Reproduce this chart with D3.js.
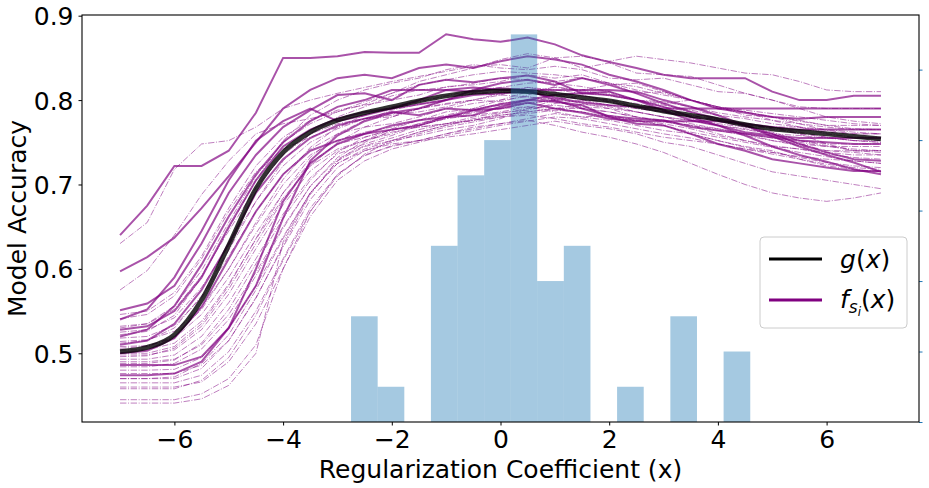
<!DOCTYPE html>
<html><head><meta charset="utf-8">
<script src="https://cdn.jsdelivr.net/npm/d3@7"></script>
<style>body{margin:0;background:#fff}svg{display:block}text{font-family:"DejaVu Sans",sans-serif}</style>
</head><body>
<svg id="c" width="929" height="488"></svg>
<script>
// ---- data ----
const xGrid = [-7,-6.5,-6,-5.5,-5,-4.5,-4,-3.5,-3,-2.5,-2,-1.5,-1,-0.5,0,0.5,1,1.5,2,2.5,3,3.5,4,4.5,5,5.5,6,6.5,7];
const gValues = [0.502,0.507,0.522,0.563,0.628,0.695,0.738,0.762,0.776,0.785,0.792,0.799,0.805,0.809,0.811,0.810,0.807,0.803,0.799,0.793,0.787,0.782,0.777,0.771,0.766,0.763,0.760,0.757,0.754];
const solidLines = [
[0.640,0.675,0.722,0.722,0.740,0.785,0.850,0.850,0.852,0.857,0.856,0.856,0.878,0.872,0.869,0.874,0.866,0.853,0.845,0.838,0.830,0.826,0.826,0.826,0.810,0.800,0.800,0.805,0.805],
[0.597,0.614,0.637,0.672,0.710,0.750,0.790,0.812,0.826,0.830,0.826,0.838,0.842,0.838,0.846,0.852,0.848,0.842,0.830,0.822,0.812,0.800,0.790,0.785,0.780,0.778,0.780,0.780,0.780],
[0.551,0.559,0.580,0.630,0.690,0.735,0.768,0.788,0.806,0.808,0.800,0.818,0.824,0.821,0.826,0.829,0.822,0.808,0.810,0.800,0.792,0.780,0.770,0.758,0.745,0.735,0.727,0.718,0.712],
[0.528,0.532,0.550,0.590,0.650,0.705,0.745,0.765,0.778,0.786,0.790,0.800,0.812,0.810,0.814,0.812,0.800,0.790,0.781,0.778,0.776,0.768,0.764,0.760,0.756,0.752,0.750,0.748,0.748],
[0.486,0.486,0.486,0.496,0.530,0.580,0.660,0.728,0.758,0.775,0.785,0.790,0.800,0.806,0.808,0.810,0.803,0.797,0.794,0.792,0.790,0.790,0.790,0.790,0.790,0.790,0.790,0.790,0.790],
[0.510,0.515,0.535,0.575,0.630,0.690,0.730,0.755,0.770,0.778,0.786,0.782,0.790,0.788,0.795,0.800,0.798,0.794,0.780,0.772,0.770,0.760,0.748,0.740,0.730,0.725,0.720,0.716,0.716],
[0.500,0.503,0.518,0.555,0.612,0.668,0.712,0.740,0.752,0.760,0.770,0.776,0.780,0.788,0.790,0.797,0.790,0.785,0.778,0.775,0.775,0.775,0.775,0.772,0.768,0.765,0.765,0.765,0.765],
[0.520,0.528,0.556,0.605,0.662,0.712,0.750,0.775,0.792,0.800,0.812,0.812,0.812,0.815,0.812,0.812,0.812,0.812,0.812,0.810,0.800,0.792,0.782,0.770,0.757,0.745,0.735,0.726,0.715],
[0.474,0.474,0.476,0.490,0.530,0.600,0.680,0.725,0.748,0.760,0.765,0.770,0.780,0.782,0.792,0.800,0.806,0.808,0.806,0.800,0.788,0.776,0.770,0.762,0.758,0.755,0.755,0.755,0.755],
[0.540,0.552,0.590,0.645,0.705,0.752,0.775,0.790,0.775,0.782,0.790,0.795,0.800,0.812,0.820,0.824,0.818,0.826,0.818,0.808,0.796,0.786,0.778,0.770,0.760,0.748,0.738,0.730,0.728]
];
const dashLines = [
[0.630,0.655,0.718,0.748,0.752,0.768,0.790,0.800,0.808,0.815,0.822,0.828,0.834,0.840,0.842,0.838,0.850,0.852,0.846,0.852,0.848,0.844,0.838,0.832,0.830,0.822,0.812,0.810,0.810],
[0.575,0.598,0.640,0.688,0.728,0.760,0.772,0.778,0.786,0.795,0.808,0.822,0.830,0.838,0.848,0.855,0.850,0.838,0.844,0.832,0.830,0.828,0.818,0.808,0.800,0.792,0.790,0.790,0.790],
[0.546,0.550,0.572,0.615,0.672,0.722,0.756,0.776,0.788,0.794,0.800,0.806,0.816,0.818,0.822,0.830,0.826,0.830,0.820,0.808,0.810,0.800,0.790,0.786,0.780,0.772,0.764,0.760,0.760],
[0.541,0.546,0.568,0.612,0.668,0.715,0.742,0.756,0.768,0.778,0.780,0.790,0.796,0.800,0.798,0.806,0.816,0.810,0.808,0.800,0.796,0.800,0.792,0.782,0.780,0.776,0.770,0.770,0.770],
[0.532,0.535,0.552,0.592,0.645,0.696,0.735,0.760,0.772,0.778,0.784,0.786,0.792,0.800,0.806,0.804,0.800,0.806,0.798,0.792,0.786,0.780,0.775,0.768,0.760,0.748,0.740,0.738,0.735],
[0.525,0.528,0.542,0.578,0.628,0.680,0.722,0.750,0.766,0.778,0.782,0.790,0.800,0.808,0.806,0.815,0.810,0.800,0.798,0.790,0.786,0.778,0.772,0.768,0.768,0.760,0.748,0.740,0.740],
[0.518,0.520,0.533,0.566,0.615,0.668,0.712,0.742,0.760,0.768,0.772,0.780,0.790,0.796,0.800,0.804,0.798,0.792,0.790,0.780,0.774,0.770,0.760,0.752,0.745,0.742,0.736,0.732,0.730],
[0.514,0.516,0.526,0.555,0.600,0.652,0.700,0.735,0.752,0.762,0.768,0.776,0.782,0.790,0.800,0.810,0.815,0.812,0.805,0.800,0.792,0.786,0.776,0.770,0.762,0.752,0.748,0.748,0.748],
[0.508,0.509,0.518,0.546,0.590,0.642,0.690,0.726,0.748,0.756,0.765,0.770,0.778,0.788,0.796,0.800,0.802,0.796,0.790,0.786,0.780,0.776,0.770,0.765,0.760,0.752,0.746,0.740,0.738],
[0.504,0.504,0.512,0.538,0.582,0.635,0.684,0.722,0.742,0.752,0.760,0.772,0.780,0.785,0.790,0.796,0.800,0.805,0.800,0.796,0.788,0.782,0.776,0.772,0.766,0.760,0.756,0.752,0.752],
[0.498,0.498,0.504,0.528,0.570,0.624,0.676,0.716,0.740,0.752,0.762,0.768,0.772,0.776,0.784,0.790,0.794,0.790,0.786,0.780,0.775,0.770,0.766,0.760,0.755,0.750,0.745,0.742,0.740],
[0.493,0.493,0.498,0.520,0.560,0.612,0.665,0.708,0.736,0.748,0.758,0.770,0.778,0.782,0.786,0.792,0.786,0.780,0.782,0.776,0.770,0.762,0.756,0.750,0.744,0.738,0.733,0.728,0.725],
[0.490,0.490,0.493,0.510,0.546,0.596,0.650,0.698,0.730,0.746,0.755,0.765,0.772,0.780,0.785,0.788,0.796,0.800,0.794,0.786,0.780,0.772,0.766,0.760,0.752,0.746,0.740,0.740,0.740],
[0.480,0.480,0.481,0.495,0.530,0.580,0.638,0.690,0.725,0.742,0.752,0.762,0.770,0.776,0.782,0.786,0.790,0.790,0.786,0.780,0.776,0.770,0.764,0.758,0.752,0.748,0.745,0.745,0.745],
[0.470,0.470,0.470,0.482,0.515,0.566,0.626,0.682,0.720,0.740,0.750,0.760,0.768,0.774,0.780,0.784,0.788,0.786,0.780,0.776,0.772,0.766,0.758,0.752,0.746,0.742,0.738,0.735,0.735],
[0.465,0.465,0.465,0.474,0.502,0.550,0.612,0.672,0.712,0.734,0.746,0.752,0.760,0.768,0.772,0.778,0.784,0.780,0.776,0.770,0.764,0.760,0.752,0.744,0.738,0.732,0.726,0.722,0.720],
[0.460,0.460,0.460,0.466,0.490,0.535,0.600,0.662,0.705,0.728,0.742,0.750,0.758,0.764,0.770,0.775,0.780,0.778,0.772,0.766,0.760,0.755,0.748,0.742,0.736,0.730,0.722,0.718,0.715],
[0.445,0.445,0.445,0.452,0.470,0.510,0.600,0.668,0.712,0.735,0.745,0.752,0.756,0.760,0.765,0.770,0.775,0.770,0.766,0.760,0.750,0.745,0.735,0.725,0.715,0.710,0.705,0.700,0.695],
[0.441,0.441,0.441,0.446,0.462,0.500,0.632,0.690,0.725,0.740,0.748,0.752,0.760,0.766,0.772,0.776,0.770,0.762,0.756,0.748,0.738,0.725,0.712,0.700,0.690,0.684,0.680,0.684,0.690],
[0.476,0.476,0.476,0.486,0.515,0.565,0.628,0.688,0.728,0.745,0.752,0.758,0.765,0.770,0.778,0.790,0.800,0.812,0.818,0.820,0.810,0.800,0.792,0.786,0.776,0.772,0.768,0.765,0.765],
[0.522,0.526,0.545,0.590,0.648,0.705,0.752,0.782,0.800,0.812,0.820,0.826,0.836,0.842,0.838,0.836,0.840,0.836,0.826,0.824,0.826,0.818,0.810,0.808,0.800,0.790,0.780,0.775,0.772],
[0.512,0.515,0.530,0.568,0.622,0.680,0.728,0.760,0.780,0.792,0.805,0.812,0.815,0.820,0.826,0.824,0.820,0.816,0.810,0.800,0.798,0.792,0.785,0.780,0.776,0.768,0.760,0.756,0.756],
[0.496,0.497,0.506,0.532,0.576,0.630,0.682,0.722,0.750,0.768,0.780,0.790,0.795,0.800,0.808,0.812,0.806,0.800,0.800,0.792,0.786,0.780,0.776,0.770,0.768,0.768,0.762,0.760,0.760],
[0.484,0.484,0.488,0.505,0.540,0.592,0.648,0.698,0.732,0.752,0.766,0.776,0.786,0.790,0.794,0.796,0.800,0.798,0.794,0.790,0.786,0.782,0.776,0.772,0.768,0.762,0.756,0.752,0.750],
[0.470,0.470,0.472,0.488,0.522,0.575,0.636,0.690,0.728,0.750,0.764,0.772,0.780,0.786,0.790,0.792,0.790,0.786,0.780,0.775,0.770,0.760,0.752,0.745,0.740,0.730,0.724,0.720,0.718],
[0.506,0.508,0.520,0.552,0.600,0.655,0.706,0.744,0.768,0.782,0.792,0.798,0.805,0.812,0.815,0.820,0.822,0.826,0.820,0.812,0.806,0.800,0.792,0.788,0.784,0.780,0.776,0.772,0.770],
[0.488,0.488,0.492,0.512,0.552,0.606,0.660,0.705,0.738,0.756,0.765,0.768,0.772,0.776,0.780,0.782,0.778,0.772,0.768,0.762,0.756,0.752,0.748,0.742,0.738,0.733,0.730,0.728,0.725],
[0.500,0.500,0.508,0.535,0.580,0.636,0.690,0.732,0.760,0.776,0.788,0.795,0.800,0.808,0.810,0.815,0.812,0.808,0.806,0.800,0.794,0.788,0.782,0.778,0.772,0.768,0.765,0.762,0.760],
[0.458,0.458,0.458,0.468,0.495,0.545,0.610,0.668,0.710,0.736,0.752,0.762,0.770,0.778,0.782,0.786,0.790,0.795,0.792,0.786,0.780,0.776,0.770,0.766,0.760,0.758,0.755,0.752,0.750],
[0.530,0.535,0.556,0.598,0.655,0.710,0.750,0.772,0.786,0.798,0.808,0.818,0.824,0.830,0.834,0.832,0.830,0.826,0.820,0.816,0.808,0.800,0.792,0.786,0.780,0.775,0.770,0.766,0.765]
];
const binEdges = [-2.75,-2.26,-1.77,-1.28,-0.79,-0.30,0.19,0.675,1.165,1.655,2.145,2.635,3.125,3.615,4.105,4.595];
const binCounts = [3,1,0,5,7,8,11,4,5,0,1,0,3,0,2];
const xTicks = [-6,-4,-2,0,2,4,6];
const yTicks = [0.5,0.6,0.7,0.8,0.9];
const y2Ticks = [0,2,4,6,8,10];

// ---- layout ----
const L = 82, R = 919, T = 15, B = 422;
const svg = d3.select("#c");
const x = d3.scaleLinear().domain([-7.7, 7.7]).range([L, R]);
const y = d3.scaleLinear().domain([0.4186, 0.9008]).range([B, T]);
const y2 = d3.scaleLinear().domain([0, 11.55]).range([B, T]);

svg.append("defs").append("clipPath").attr("id","clip")
  .append("rect").attr("x",L).attr("y",T).attr("width",R-L).attr("height",B-T);

const plot = svg.append("g").attr("clip-path","url(#clip)");
const line = d3.line().x((d,i)=>x(xGrid[i])).y(d=>y(d));

plot.selectAll("path.dash").data(dashLines).enter().append("path")
  .attr("class","dash").attr("d", line)
  .attr("fill","none").attr("stroke","purple").attr("stroke-width",1)
  .attr("stroke-opacity",0.5).attr("stroke-dasharray","6.4,1.6,1,1.6");
plot.selectAll("path.solid").data(solidLines).enter().append("path")
  .attr("class","solid").attr("d", line)
  .attr("fill","none").attr("stroke","purple").attr("stroke-width",2)
  .attr("stroke-opacity",0.68);
plot.append("path").datum(gValues)
  .attr("d", d3.line().x((d,i)=>x(xGrid[i])).y(d=>y(d)).curve(d3.curveMonotoneX))
  .attr("fill","none").attr("stroke","black").attr("stroke-width",4.8)
  .attr("stroke-opacity",0.8).attr("stroke-linecap","butt");

// histogram (twin axis)
plot.selectAll("rect.bar").data(binCounts).enter().append("rect")
  .attr("class","bar")
  .attr("x",(d,i)=>x(binEdges[i]))
  .attr("width",(d,i)=>x(binEdges[i+1])-x(binEdges[i]))
  .attr("y",d=>y2(d)).attr("height",d=>B-y2(d))
  .attr("fill","#1f77b4").attr("fill-opacity",0.4);

// axes
const fs = "25px";
const gx = svg.append("g").attr("transform",`translate(0,${B})`)
  .call(d3.axisBottom(x).tickValues(xTicks).tickSize(3.5).tickFormat(d=>d<0?"\u2212"+Math.abs(d):d));
const gy = svg.append("g").attr("transform",`translate(${L},0)`)
  .call(d3.axisLeft(y).tickValues(yTicks).tickSize(3.5).tickFormat(d3.format(".1f")));
const gy2 = svg.append("g").attr("transform",`translate(${R},0)`)
  .call(d3.axisRight(y2).tickValues(y2Ticks).tickSize(3.5).tickFormat(""));
[gx,gy,gy2].forEach(g=>{g.selectAll("text").style("font-size",fs).attr("fill","black");g.select(".domain").remove();});
gx.selectAll("line").attr("stroke","black");
gy.selectAll("line").attr("stroke","black");
gy2.selectAll("line").attr("stroke","#1f77b4");
gx.selectAll("text").attr("y",25.5).attr("dy",0);
gy.selectAll("text").attr("x",-8.5).attr("dy","0.36em");

// spines
svg.append("rect").attr("x",L).attr("y",T).attr("width",R-L).attr("height",B-T)
  .attr("fill","none").attr("stroke","black").attr("stroke-width",1.1);

// labels
svg.append("text").attr("x",(L+R)/2).attr("y",477.5).attr("text-anchor","middle")
  .style("font-size",fs).text("Regularization Coefficient (x)");
svg.append("text").attr("transform",`translate(25.5,${(T+B)/2}) rotate(-90)`)
  .attr("text-anchor","middle").style("font-size",fs).text("Model Accuracy");

// legend
const lg = svg.append("g");
lg.append("rect").attr("x",760).attr("y",237).attr("width",147).attr("height",91)
  .attr("rx",4).attr("fill","white").attr("fill-opacity",0.8).attr("stroke","#cccccc").attr("stroke-width",1);
lg.append("line").attr("x1",769).attr("x2",822).attr("y1",259).attr("y2",259).attr("stroke","black").attr("stroke-width",3);
lg.append("line").attr("x1",769).attr("x2",822).attr("y1",300).attr("y2",300).attr("stroke","purple").attr("stroke-width",3);
const t1 = lg.append("text").attr("x",840).attr("y",268).style("font-size",fs);
t1.append("tspan").style("font-style","italic").text("g");
t1.append("tspan").text("(");
t1.append("tspan").style("font-style","italic").text("x");
t1.append("tspan").text(")");
const t2 = lg.append("text").attr("x",840).attr("y",308).style("font-size",fs);
t2.append("tspan").style("font-style","italic").text("f");
t2.append("tspan").style("font-style","italic").style("font-size","17px").attr("dy",5).text("s");
t2.append("tspan").style("font-style","italic").style("font-size","12px").attr("dy",3).text("i");
t2.append("tspan").attr("dy",-8).text("(");
t2.append("tspan").style("font-style","italic").text("x");
t2.append("tspan").text(")");
</script>
</body></html>
